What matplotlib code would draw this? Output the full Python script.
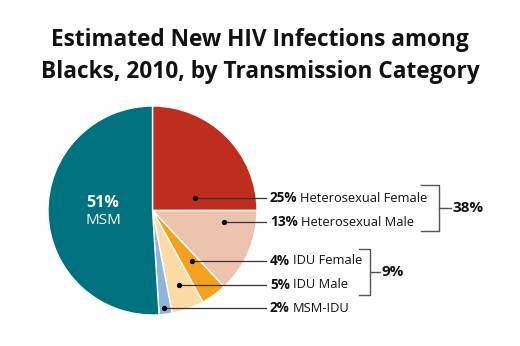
import matplotlib
matplotlib.use("Agg")
import matplotlib.pyplot as plt

# Data
categories = ["Heterosexual Female", "Heterosexual Male", "IDU Female", "IDU Male", "MSM-IDU", "MSM"]
values = [25, 13, 4, 5, 2, 51]
colors = ["#BD2E1C", "#EEC3AE", "#F4A21E", "#FDDAA6", "#8FB4DC", "#00717F"]
group_labels = ["38%", "9%"]
title = "Estimated New HIV Infections among\nBlacks, 2010, by Transmission Category"

W, H = 520, 346
fig = plt.figure(figsize=(W / 100, H / 100), dpi=100)
ax = fig.add_axes([0, 0, 1, 1])
ax.set_xlim(0, W)
ax.set_ylim(0, H)
ax.set_aspect("equal")
ax.axis("off")

FONT = "Open Sans"

def py(y):
    return H - y

cx, cy, r = 152.5, 210.5, 104.5
ax.pie(values, colors=colors, startangle=90, counterclock=False,
       center=(cx, py(cy)), radius=r,
       wedgeprops=dict(edgecolor="white", linewidth=1.0))
ax.set_xlim(0, W)
ax.set_ylim(0, H)

# Inside label for MSM
ax.text(103, py(203), f"{values[5]}%", color="white", fontsize=11.5, fontweight="bold",
        ha="center", va="center", family=FONT)
ax.text(103, py(220), categories[5], color="white", fontsize=11, ha="center", va="center", family=FONT)

# Callout labels
label_y = [198, 222, 261, 285, 308]
dot_x = [195, 224, 192, 179, 164]
line_end = 266
text_x = 270
for i in range(5):
    y = label_y[i]
    ax.plot([dot_x[i], line_end], [py(y), py(y)], color="#333333", lw=0.9)
    ax.plot(dot_x[i], py(y), "o", color="black", ms=2.8)
    t = ax.text(text_x, py(y), f"{values[i]}%", fontsize=9.8, fontweight="bold",
                ha="left", va="center", family=FONT, color="#111111")
    ax.annotate(categories[i], xycoords=t, xy=(1, 0.5), xytext=(2, 0),
                textcoords="offset points", va="center", ha="left",
                fontsize=9.3, family=FONT, color="#111111")

# Brackets
def bracket(x_left, x_v, y_top, y_bot, x_out, label):
    ax.plot([x_left, x_v, x_v, x_left], [py(y_top), py(y_top), py(y_bot), py(y_bot)],
            color="#555555", lw=1.0)
    ym = (y_top + y_bot) / 2
    ax.plot([x_v, x_out], [py(ym), py(ym)], color="#555555", lw=1.0)
    ax.text(x_out + 1.5, py(ym), label, fontsize=11, fontweight="bold", ha="left",
            va="center", family=FONT, color="#111111")

bracket(421, 439, 185, 231, 451, group_labels[0])
bracket(359, 370, 249, 295, 380, group_labels[1])

fig.text(0.5, 1 - 56 / H, title, ha="center", va="center", fontsize=16.3,
         fontweight="bold", family=FONT, linespacing=1.45, color="#111111")

fig.savefig("out.png", dpi=100, facecolor="white")
